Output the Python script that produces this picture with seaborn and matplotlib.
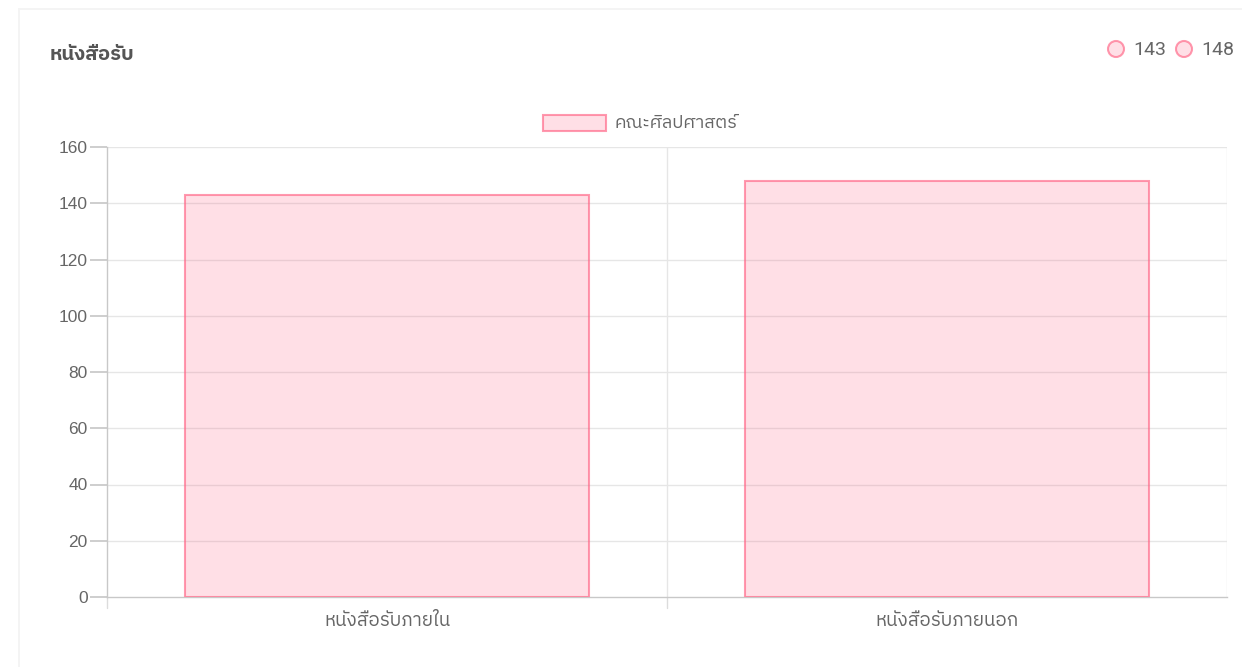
import matplotlib
matplotlib.use("Agg")
import matplotlib.pyplot as plt
from matplotlib import font_manager
from matplotlib.ft2font import FT2Font
from matplotlib.patches import Rectangle, Ellipse
import seaborn as sns
import pandas as pd

# data
categories = ["หนังสือรับภายใน", "หนังสือรับภายนอก"]
values = [143, 148]
series_name = "คณะศิลปศาสตร์"
card_title = "หนังสือรับ"
y_ticks = [0, 20, 40, 60, 80, 100, 120, 140, 160]

# look for a font that can draw Thai, preferring one whose vowel marks have no advance
candidates = []
for path in font_manager.findSystemFonts():
    try:
        f = FT2Font(path)
        if 0x0E2B not in f.get_charmap() or 0x0E31 not in f.get_charmap():
            continue
        g = f.load_char(0x0E31)
        adv = g.linearHoriAdvance
        name = font_manager.FontProperties(fname=path).get_name()
        score = (0 if adv == 0 else 1, 0 if "thai" in name.lower() else 1)
        candidates.append((score, name))
    except Exception:
        pass
candidates.sort()
thai_fonts = []
for _, n in candidates:
    if n not in thai_fonts:
        thai_fonts.append(n)

sns.set_theme(style="white")
plt.rcParams['font.family'] = thai_fonts[:1] + ['DejaVu Sans']

fill = (1.0, 0.388, 0.518, 0.2)
edge = (1.0, 0.388, 0.518, 0.65)
text_col = "#666666"

df = pd.DataFrame({"category": categories, "value": values})

fig = plt.figure(figsize=(12.42, 6.67), dpi=100)
W, H = 1242, 667

# card background with faint shadow
fig.patches.append(Rectangle((18 / W, 0), (W - 18) / W, (H - 8) / H, transform=fig.transFigure,
                             facecolor="#f4f4f4", edgecolor="none", zorder=-2))
fig.patches.append(Rectangle((20 / W, 0), (W - 20) / W, (H - 10) / H, transform=fig.transFigure,
                             facecolor="white", edgecolor="none", zorder=-1))

ax = fig.add_axes([107 / W, 70 / H, 1120 / W, 450 / H])
sns.barplot(data=df, x="category", y="value", ax=ax, width=0.72,
            color=fill[:3], saturation=1)
for p in ax.patches:
    p.set_facecolor(fill)
    p.set_edgecolor(edge)
    p.set_linewidth(1.5)
    p.set_zorder(3)

ax.set_xlim(-0.5, 1.5)
ax.set_ylim(0, 160)
ax.set_yticks(y_ticks)
ax.set_xlabel("")
ax.set_ylabel("")
ax.set_xticks([0, 1])
ax.set_xticklabels(categories)

# grid lines (horizontal) and category separators (vertical)
for t in y_ticks[1:]:
    ax.axhline(t, color="#e6e6e6", lw=1, zorder=0)
ax.axvline(0.5, color="#e6e6e6", lw=1, zorder=0)
ax.axvline(1.5, color="#e6e6e6", lw=1, zorder=0)

for s in ["top", "right"]:
    ax.spines[s].set_visible(False)
for s in ["left", "bottom"]:
    ax.spines[s].set_color("#c8c8c8")
    ax.spines[s].set_linewidth(1)

ax.tick_params(axis="y", length=12, color="#c8c8c8", labelcolor=text_col, labelsize=12.5, pad=2, left=True)
ax.tick_params(axis="x", length=0, labelcolor=text_col, labelsize=13.5, pad=11)
ax.set_yticklabels([str(t) for t in y_ticks], family=['Liberation Sans', 'DejaVu Sans'])
# ticks at category boundaries below the axis
for xb in [-0.5, 0.5]:
    ax.plot([xb, xb], [0, -0.025], transform=ax.get_xaxis_transform(), color="#dcdcdc",
            lw=1, clip_on=False)

# legend above the plot
fig.patches.append(Rectangle((543 / W, 1 - 131 / H), 63 / W, 16 / H, transform=fig.transFigure,
                             facecolor=fill, edgecolor=edge, lw=1.5))
fig.text(615 / W, 1 - 123 / H, series_name, color=text_col, fontsize=13, va="center")

# card title
fig.text(50 / W, 1 - 55 / H, card_title, color="#555555", fontsize=14.5, fontweight="bold", va="center")

# small value legend top right
for cx, tx, v in [(1116, 1133, values[0]), (1184, 1201, values[1])]:
    fig.patches.append(Ellipse((cx / W, 1 - 49 / H), 16 / W, 16 / H, transform=fig.transFigure,
                               facecolor=fill, edgecolor=edge, lw=1.5))
    fig.text(tx / W, 1 - 50 / H, str(v), color=text_col, fontsize=14, va="center",
             family=['Roboto', 'DejaVu Sans'])

fig.savefig("out.png", dpi=100)
